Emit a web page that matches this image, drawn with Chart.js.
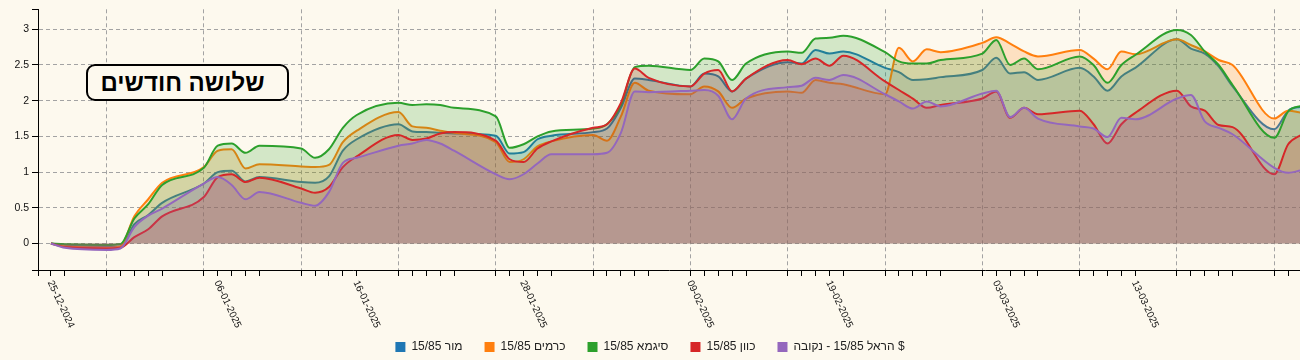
<!DOCTYPE html>
<html lang="he">
<head>
<meta charset="utf-8">
<title>שלושה חודשים</title>
<script src="https://cdn.jsdelivr.net/npm/chart.js@4.4.4/dist/chart.umd.min.js"></script>
<style>
  html, body { margin: 0; padding: 0; background: #fdf9ee; }
  #wrap { position: relative; width: 1300px; height: 360px; overflow: hidden; }
  #chart { display: block; }
  #title-box {
    position: absolute; left: 86px; top: 64px;
    width: 199px; height: 33px;
    border: 2px solid #000; border-radius: 9px;
    background: #fdf9ee;
    display: flex; align-items: center; justify-content: center;
    padding-right: 10px; box-sizing: content-box; width: 189px;
    font: bold 24px 'Liberation Sans', Arial, sans-serif;
    direction: rtl; color: #000;
  }
</style>
</head>
<body>
<div id="wrap">
  <canvas id="chart" width="1300" height="360"></canvas>
  <div id="title-box">שלושה חודשים</div>
</div>
<script>
// ---------------------------------------------------------------------------
// Three-month yield comparison, 15/85 tracks (trading days Sun-Thu)
// ---------------------------------------------------------------------------

const dates = [
  '25-12-2024', '26-12-2024', '29-12-2024', '30-12-2024', '31-12-2024',
  '01-01-2025', '02-01-2025', '05-01-2025', '06-01-2025', '07-01-2025', '08-01-2025', '09-01-2025',
  '12-01-2025', '13-01-2025', '14-01-2025', '15-01-2025', '16-01-2025',
  '19-01-2025', '20-01-2025', '21-01-2025', '22-01-2025', '23-01-2025',
  '26-01-2025', '27-01-2025', '28-01-2025', '29-01-2025', '30-01-2025',
  '02-02-2025', '03-02-2025', '04-02-2025', '05-02-2025', '06-02-2025',
  '09-02-2025', '10-02-2025', '11-02-2025', '12-02-2025', '13-02-2025',
  '16-02-2025', '17-02-2025', '18-02-2025', '19-02-2025', '20-02-2025',
  '23-02-2025', '24-02-2025', '25-02-2025', '26-02-2025', '27-02-2025',
  '02-03-2025', '03-03-2025', '04-03-2025', '05-03-2025', '06-03-2025',
  '09-03-2025', '10-03-2025', '11-03-2025', '12-03-2025', '13-03-2025',
  '16-03-2025', '17-03-2025', '18-03-2025', '19-03-2025', '20-03-2025',
  '23-03-2025', '24-03-2025', '25-03-2025',
];

const mor = [
  0, -0.03, -0.04, -0.05, 0.27, 0.40, 0.57, 0.84, 1.00, 1.02,
  0.87, 0.93, 0.86, 0.85, 0.94, 1.30, 1.46, 1.67, 1.57, 1.56,
  1.55, 1.54, 1.51, 1.26, 1.28, 1.46, 1.51, 1.56, 1.61, 1.90,
  2.31, 2.29, 2.20, 2.38, 2.34, 2.13, 2.31, 2.54, 2.52, 2.71,
  2.66, 2.69, 2.46, 2.40, 2.29, 2.30, 2.33, 2.43, 2.60, 2.38,
  2.40, 2.29, 2.46, 2.34, 2.14, 2.34, 2.46, 2.86, 2.73, 2.66,
  2.48, 2.20, 1.60, 1.86, 1.92,
];

const keramim = [
  0, -0.04, -0.06, -0.04, 0.38, 0.62, 0.85, 1.07, 1.30, 1.32,
  1.05, 1.11, 1.08, 1.07, 1.10, 1.42, 1.58, 1.84, 1.64, 1.62,
  1.58, 1.55, 1.42, 1.14, 1.18, 1.36, 1.43, 1.52, 1.44, 1.78,
  2.25, 2.14, 2.09, 2.20, 2.13, 1.90, 2.03, 2.13, 2.11, 2.29,
  2.25, 2.23, 2.09, 2.74, 2.55, 2.72, 2.68, 2.81, 2.89, 2.80,
  2.69, 2.62, 2.71, 2.59, 2.44, 2.69, 2.65, 2.86, 2.78, 2.69,
  2.57, 2.50, 1.75, 1.86, 1.83,
];

const sigma = [
  0, -0.01, -0.02, -0.01, 0.35, 0.55, 0.82, 1.06, 1.37, 1.40,
  1.27, 1.37, 1.33, 1.20, 1.32, 1.62, 1.80, 1.97, 1.94, 1.95,
  1.94, 1.90, 1.78, 1.34, 1.39, 1.50, 1.57, 1.61, 1.67, 1.94,
  2.47, 2.49, 2.43, 2.59, 2.55, 2.29, 2.52, 2.69, 2.67, 2.87,
  2.88, 2.91, 2.68, 2.55, 2.52, 2.52, 2.57, 2.66, 2.85, 2.50,
  2.59, 2.44, 2.62, 2.50, 2.25, 2.50, 2.64, 2.99, 2.92, 2.69,
  2.50, 2.22, 1.48, 1.85, 1.93,
];

const kivun = [
  0, -0.05, -0.07, -0.06, 0.09, 0.20, 0.38, 0.65, 0.93, 0.97,
  0.86, 0.92, 0.77, 0.71, 0.79, 1.07, 1.22, 1.52, 1.45, 1.47,
  1.54, 1.56, 1.44, 1.18, 1.14, 1.33, 1.43, 1.62, 1.67, 1.97,
  2.45, 2.32, 2.20, 2.38, 2.43, 2.13, 2.31, 2.57, 2.51, 2.59,
  2.49, 2.63, 2.27, 2.15, 2.03, 1.90, 1.94, 2.03, 2.13, 1.76,
  1.90, 1.81, 1.86, 1.67, 1.40, 1.67, 1.83, 2.14, 1.92, 1.86,
  1.66, 1.63, 0.97, 1.39, 1.53,
];

const harel = [
  0, -0.06, -0.09, -0.07, 0.23, 0.39, 0.49, 0.84, 0.93, 0.82,
  0.62, 0.72, 0.57, 0.53, 0.72, 1.13, 1.20, 1.37, 1.40, 1.45,
  1.40, 1.30, 0.97, 0.90, 0.97, 1.12, 1.25, 1.25, 1.27, 1.55,
  2.13, 2.12, 2.14, 2.15, 2.07, 1.74, 2.03, 2.19, 2.21, 2.32,
  2.29, 2.36, 2.09, 1.99, 1.89, 1.99, 1.92, 2.10, 2.14, 1.77,
  1.90, 1.75, 1.64, 1.61, 1.49, 1.76, 1.74, 2.03, 2.08, 1.71,
  1.62, 1.53, 1.06, 0.99, 1.03,
];

const seriesLabels = ['מור 15/85', 'כרמים 15/85', 'סיגמא 15/85', 'כוון 15/85', 'הראל 15/85 - נקובה $'];
const seriesColors = ['#1f77b4', '#ff7f0e', '#2ca02c', '#d62728', '#9467bd'];
const yTickValues = [0, 0.5, 1, 1.5, 2, 2.5, 3];

const LABEL_EVERY = 8; // every 8th trading day gets a date label
const X_MIN = -0.93;   // calendar days relative to the first date
const X_MAX = 89.85;
const Y_MIN = -0.371;
const Y_MAX = 3.28;
const GRID_COLOR = '#a3a3a3';
const FONT = "'Liberation Sans', Arial, sans-serif";

function parseDate(s) {
  const [d, m, y] = s.split('-').map(Number);
  return Date.UTC(y, m - 1, d);
}

const DAY_MS = 86400000;
const firstDay = parseDate(dates[0]);
const dayOffsets = dates.map((s) => Math.round((parseDate(s) - firstDay) / DAY_MS));
const sundayOffsets = new Set(dates.filter((s) => new Date(parseDate(s)).getUTCDay() === 0)
  .map((s) => Math.round((parseDate(s) - firstDay) / DAY_MS)));

function withAlpha(hex, a) {
  const n = parseInt(hex.slice(1), 16);
  return `rgba(${(n >> 16) & 255}, ${(n >> 8) & 255}, ${n & 255}, ${a})`;
}

const seriesValues = [mor, keramim, sigma, kivun, harel];

const datasets = seriesValues.map((values, i) => ({
  label: seriesLabels[i],
  data: values.map((v, j) => ({ x: dayOffsets[j], y: v })),
  borderColor: seriesColors[i],
  backgroundColor: withAlpha(seriesColors[i], 0.2),
  borderWidth: 2,
  pointRadius: 0,
  pointHoverRadius: 0,
  fill: 'origin',
  cubicInterpolationMode: 'monotone',
  order: seriesValues.length - i, // first series is painted first (bottom)
}));

// rotated date labels, drawn from the x scale's own pixel mapping
const dateLabelsPlugin = {
  id: 'dateLabels',
  afterDraw(chart) {
    const { ctx } = chart;
    const x = chart.scales.x;
    ctx.save();
    ctx.font = `10px ${FONT}`;
    ctx.fillStyle = '#111';
    ctx.textAlign = 'left';
    ctx.textBaseline = 'middle';
    dates.forEach((label, i) => {
      if (i % LABEL_EVERY) return;
      const px = x.getPixelForValue(dayOffsets[i]);
      if (px > chart.width) return;
      ctx.save();
      ctx.translate(px - 1, x.top + 11);
      ctx.rotate((65 * Math.PI) / 180);
      ctx.fillText(label, 0, 0);
      ctx.restore();
    });
    ctx.restore();
  },
};

new Chart(document.getElementById('chart'), {
  type: 'line',
  data: { datasets },
  plugins: [dateLabelsPlugin],
  options: {
    responsive: false,
    animation: false,
    events: [],
    layout: { padding: { top: 7, right: 0, left: 0, bottom: -3 } },
    plugins: {
      filler: { drawTime: 'beforeDatasetDraw' },
      tooltip: { enabled: false },
      legend: {
        position: 'bottom',
        labels: {
          boxWidth: 10,
          boxHeight: 10,
          padding: 22,
          color: '#222',
          font: { family: FONT, size: 12 },
          sort: (a, b) => a.datasetIndex - b.datasetIndex,
          generateLabels: (chart) =>
            Chart.defaults.plugins.legend.labels.generateLabels(chart).map((item) => ({
              ...item,
              fillStyle: seriesColors[item.datasetIndex],
              strokeStyle: seriesColors[item.datasetIndex],
              lineWidth: 0,
            })),
        },
      },
    },
    scales: {
      x: {
        type: 'linear',
        min: X_MIN,
        max: X_MAX,
        afterBuildTicks: (scale) => {
          scale.ticks = [X_MIN, ...dayOffsets.filter((d) => d <= X_MAX)].map((value) => ({ value }));
        },
        afterFit: (scale) => { scale.height = 49; },
        ticks: { display: false },
        grid: {
          color: (ctx) => (ctx.tick && sundayOffsets.has(ctx.tick.value) ? GRID_COLOR : 'rgba(0,0,0,0)'),
          tickColor: '#000',
          tickLength: 6,
          lineWidth: 1,
        },
        border: { display: true, color: '#000', width: 1, dash: [4, 3] },
      },
      y: {
        min: Y_MIN,
        max: Y_MAX,
        afterBuildTicks: (scale) => {
          scale.ticks = [Y_MIN, ...yTickValues, Y_MAX].map((value) => ({ value }));
        },
        afterFit: (scale) => { scale.width = 38; },
        ticks: {
          padding: 3,
          color: '#111',
          font: { family: FONT, size: 10.5 },
          callback: (v) => (yTickValues.includes(v) ? String(v) : ''),
        },
        grid: {
          color: (ctx) => (ctx.tick && yTickValues.includes(ctx.tick.value) ? GRID_COLOR : 'rgba(0,0,0,0)'),
          tickColor: '#000',
          tickLength: 6,
          lineWidth: 1,
        },
        border: { display: true, color: '#000', width: 1, dash: [4, 3] },
      },
    },
  },
});
</script>
</body>
</html>
